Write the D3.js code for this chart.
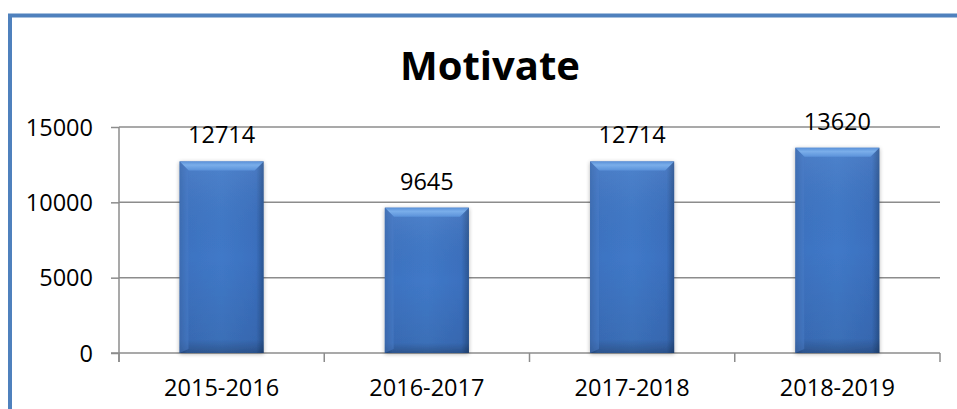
<!DOCTYPE html>
<meta charset="utf-8">
<style>
body { margin: 0; background: #fff; }
svg text { font-family: "Open Sans", sans-serif; fill: #000; }
</style>
<svg width="957" height="409"></svg>
<script src="https://cdn.jsdelivr.net/npm/d3@7"></script>
<script>
// chart data
var years = ["2015-2016", "2016-2017", "2017-2018", "2018-2019"];
var counts = [12714, 9645, 12714, 13620];
var yTicks = [0, 5000, 10000, 15000];

var svg = d3.select("svg");

// outer frame (only top/left visible, the rest is cut off)
svg.append("rect")
  .attr("x", 10).attr("y", 15.5)
  .attr("width", 1000).attr("height", 500)
  .attr("fill", "#fff")
  .attr("stroke", "#4f81bd")
  .attr("stroke-width", 4);

var plotLeft = 119, plotRight = 940, plotTop = 127, plotBottom = 353;

var x = d3.scaleBand().domain(years).range([plotLeft, plotRight]).paddingInner(0.59).paddingOuter(0.295);
var y = d3.scaleLinear().domain([0, 15000]).range([plotBottom, plotTop]);

var defs = svg.append("defs");
var hg = defs.append("linearGradient").attr("id", "barH");
hg.append("stop").attr("offset", "0%").attr("stop-color", "#2d5b9e");
hg.append("stop").attr("offset", "9%").attr("stop-color", "#3d73c2");
hg.append("stop").attr("offset", "50%").attr("stop-color", "#4079c8");
hg.append("stop").attr("offset", "91%").attr("stop-color", "#3b70bf");
hg.append("stop").attr("offset", "100%").attr("stop-color", "#2a5592");
var vg = defs.append("linearGradient").attr("id", "barV").attr("x1", 0).attr("x2", 0).attr("y1", 0).attr("y2", 1);
vg.append("stop").attr("offset", "0%").attr("stop-color", "#fff").attr("stop-opacity", 0.08);
vg.append("stop").attr("offset", "50%").attr("stop-color", "#000").attr("stop-opacity", 0);
vg.append("stop").attr("offset", "93%").attr("stop-color", "#000").attr("stop-opacity", 0.08);
vg.append("stop").attr("offset", "100%").attr("stop-color", "#000").attr("stop-opacity", 0.28);
var bv = defs.append("linearGradient").attr("id", "bevel").attr("x1", 0).attr("x2", 0).attr("y1", 0).attr("y2", 1);
bv.append("stop").attr("offset", "0%").attr("stop-color", "#5a90d8");
bv.append("stop").attr("offset", "40%").attr("stop-color", "#7aaeea");
bv.append("stop").attr("offset", "100%").attr("stop-color", "#5b92da");
var sh = defs.append("filter").attr("id", "shadow").attr("x", "-20%").attr("y", "-10%").attr("width", "140%").attr("height", "130%");
sh.append("feGaussianBlur").attr("in", "SourceAlpha").attr("stdDeviation", 2);
sh.append("feOffset").attr("dx", 0).attr("dy", 1).attr("result", "b");
sh.append("feComponentTransfer").append("feFuncA").attr("type", "linear").attr("slope", 0.3);
var mg = sh.append("feMerge");
mg.append("feMergeNode");
mg.append("feMergeNode").attr("in", "SourceGraphic");

// gridlines
svg.append("g")
  .selectAll("line")
  .data(yTicks.slice(1))
  .enter().append("line")
    .attr("x1", plotLeft).attr("x2", plotRight)
    .attr("y1", function (d) { return y(d) })
    .attr("y2", function (d) { return y(d) })
    .attr("stroke", "#8c8c8c")
    .attr("stroke-width", 1.5);

// y axis
var yAxis = svg.append("g")
  .attr("transform", "translate(" + plotLeft + ",0)")
  .call(d3.axisLeft(y).tickValues(yTicks).tickFormat(d3.format("d")).tickSize(8).tickPadding(18));
yAxis.selectAll("line, path").attr("stroke", "#8c8c8c").attr("stroke-width", 1.5);
yAxis.select(".domain").attr("d", "M0," + (plotBottom + 9) + "V" + plotTop);
yAxis.selectAll("text").style("font-size", "23.5px").attr("dy", "0.35em");

// x axis: ticks between categories
var xAxis = svg.append("g").attr("transform", "translate(0," + plotBottom + ")");
xAxis.append("line").attr("x1", plotLeft - 8).attr("x2", plotRight).attr("stroke", "#8c8c8c").attr("stroke-width", 1.5);
var step = x.step();
xAxis.selectAll(".tk")
  .data(d3.range(years.length + 1))
  .enter().append("line")
    .attr("x1", function (i) { return plotLeft + i * step })
    .attr("x2", function (i) { return plotLeft + i * step })
    .attr("y1", 0).attr("y2", 9)
    .attr("stroke", "#8c8c8c").attr("stroke-width", 1.5);
xAxis.selectAll("text")
  .data(years)
  .enter().append("text")
    .attr("x", function (d) { return x(d) + x.bandwidth() / 2 })
    .attr("y", 43)
    .attr("text-anchor", "middle")
    .style("font-size", "23.5px")
    .text(function (d) { return d });

// bars
var bars = svg.append("g").selectAll("g")
  .data(years)
  .enter().append("g")
    .attr("filter", "url(#shadow)");
bars.append("rect")
  .attr("x", function (d) { return x(d) })
  .attr("y", function (d, i) { return y(counts[i]) })
  .attr("width", x.bandwidth())
  .attr("height", function (d, i) { return plotBottom - y(counts[i]) })
  .attr("fill", "url(#barH)");
bars.append("rect")
  .attr("x", function (d) { return x(d) })
  .attr("y", function (d, i) { return y(counts[i]) })
  .attr("width", x.bandwidth())
  .attr("height", function (d, i) { return plotBottom - y(counts[i]) })
  .attr("fill", "url(#barV)");
// top bevel
bars.append("path")
  .attr("fill", "url(#bevel)")
  .attr("d", function (d, i) {
    var x0 = x(d), x1 = x(d) + x.bandwidth(), t = y(counts[i]), b = 9;
    return "M" + x0 + "," + t + "L" + x1 + "," + t + "L" + (x1 - b) + "," + (t + b) + "L" + (x0 + b) + "," + (t + b) + "Z";
  });
bars.append("path")
  .attr("fill", "#4a7cc6")
  .attr("d", function (d, i) {
    var x0 = x(d), t = y(counts[i]), b = 9;
    return "M" + x0 + "," + t + "L" + (x0 + b) + "," + (t + b) + "L" + (x0 + b) + "," + (plotBottom - 4) + "L" + x0 + "," + plotBottom + "Z";
  })
  .attr("opacity", 0.5);

// value labels
svg.append("g").selectAll("text")
  .data(years)
  .enter().append("text")
    .attr("x", function (d) { return x(d) + x.bandwidth() / 2 })
    .attr("y", function (d, i) { return y(counts[i]) - 18 })
    .attr("text-anchor", "middle")
    .style("font-size", "23.5px")
    .text(function (d, i) { return counts[i] });

// title
svg.append("text")
  .attr("x", 490).attr("y", 80)
  .attr("text-anchor", "middle")
  .style("font-size", "40px")
  .style("font-weight", "bold")
  .text("Motivate");
</script>
